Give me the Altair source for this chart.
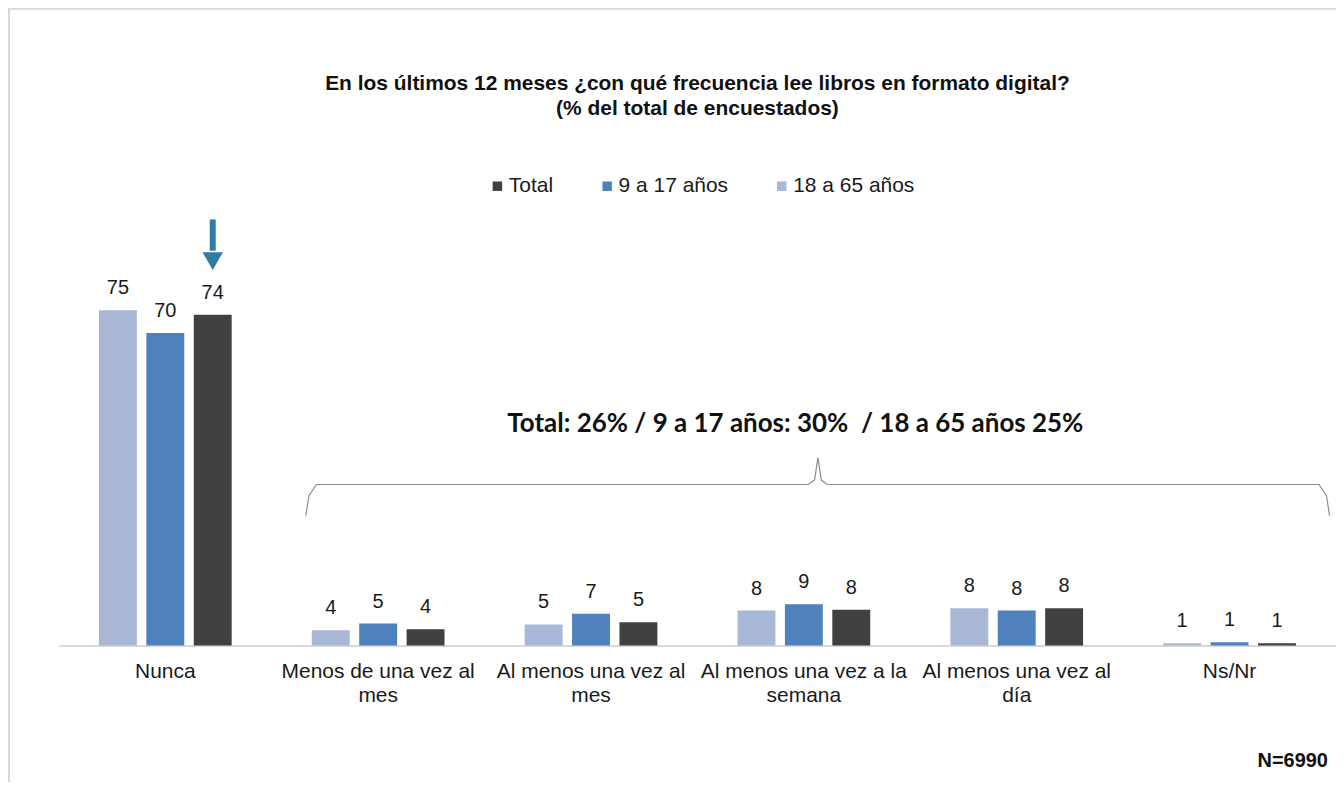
import altair as alt
import pandas as pd

# ---- data ----
categories = [
    "Nunca",
    "Menos de una vez al\nmes",
    "Al menos una vez al\nmes",
    "Al menos una vez a la\nsemana",
    "Al menos una vez al\ndía",
    "Ns/Nr",
]
series_bar_order = ["18 a 65 años", "9 a 17 años", "Total"]
legend_order = ["Total", "9 a 17 años", "18 a 65 años"]
legend_colors = ["#404040", "#4F81BD", "#A9B8D6"]

values_18_65 = [75.0, 3.4, 4.7, 7.8, 8.3, 0.5]
values_9_17 = [69.9, 4.9, 7.1, 9.2, 7.8, 0.7]
values_total = [74.0, 3.6, 5.2, 8.0, 8.3, 0.5]

labels_18_65 = [75, 4, 5, 8, 8, 1]
labels_9_17 = [70, 5, 7, 9, 8, 1]
labels_total = [74, 4, 5, 8, 8, 1]

title_lines = [
    "En los últimos 12 meses ¿con qué frecuencia lee libros en formato digital?",
    "(% del total de encuestados)",
]
annotation_text = "Total: 26% / 9 a 17 años: 30%\u00a0\u00a0/ 18 a 65 años 25%"
sample_text = "N=6990"

# annotation geometry (in category units on x, percent units on y)
brace_x = [1.16, 1.175, 1.21, 3.52, 3.55, 3.566, 3.582, 3.61, 5.92, 5.955, 5.97]
brace_y = [29.0, 33.5, 36.0, 36.0, 37.0, 42.0, 37.0, 36.0, 36.0, 33.5, 29.0]
annotation_pos = [3.46, 49.6]
sample_pos = [5.962, -25.9]
arrow_y = [95.3, 88.3]
arrow_head_y = 86.0

# ---- tables ----
rows = []
for s, vals, labs in [
    ("18 a 65 años", values_18_65, labels_18_65),
    ("9 a 17 años", values_9_17, labels_9_17),
    ("Total", values_total, labels_total),
]:
    for c, v, l in zip(categories, vals, labs):
        rows.append({"categoria": c, "serie": s, "valor": v, "etiqueta": str(l)})
df = pd.DataFrame(rows)

FONT = "Liberation Sans"

x_scale = alt.Scale(domain=categories, paddingInner=0, paddingOuter=0)
x_axis = alt.Axis(
    title=None,
    labelAngle=0,
    labelExpr="split(datum.value, '\\n')",
    labelFontSize=21,
    labelFont=FONT,
    labelColor="#1a1a1a",
    labelPadding=15,
    labelLineHeight=24,
    labelLimit=0,
    ticks=False,
    domainColor="#D9D9D9",
    domainWidth=2,
    grid=False,
)
x_enc = alt.X("categoria:N", sort=categories, scale=x_scale, axis=x_axis)
x_enc_plain = alt.X("categoria:N", sort=categories, scale=x_scale, axis=None)
xoff_enc = alt.XOffset(
    "serie:N",
    sort=series_bar_order,
    scale=alt.Scale(domain=series_bar_order, paddingInner=0.2, paddingOuter=0.845),
)
y_scale = alt.Scale(domain=[0, 100])

bars = alt.Chart(df).mark_bar().encode(
    x=x_enc,
    xOffset=xoff_enc,
    y=alt.Y("valor:Q", scale=y_scale, axis=None),
    color=alt.Color(
        "serie:N",
        scale=alt.Scale(domain=legend_order, range=legend_colors),
        legend=alt.Legend(
            title=None,
            orient="none",
            direction="horizontal",
            legendX=429,
            legendY=-23,
            symbolType="square",
            symbolSize=90,
            symbolStrokeWidth=0,
            labelFontSize=21,
            labelFont=FONT,
            labelColor="#1a1a1a",
            labelOffset=1,
            columnPadding=43,
        ),
    ),
)

texts = alt.Chart(df).mark_text(
    baseline="bottom", dy=-12, fontSize=20, font=FONT, color="#1a1a1a"
).encode(
    x=x_enc_plain,
    xOffset=xoff_enc,
    y=alt.Y("valor:Q", scale=y_scale),
    text="etiqueta:N",
)

arrow_df = pd.DataFrame(
    [{"categoria": categories[0], "serie": "Total", "y1": arrow_y[0], "y2": arrow_y[1], "yh": arrow_head_y}]
)
arrow_shaft = alt.Chart(arrow_df).mark_rule(color="#2E7BA3", strokeWidth=6).encode(
    x=x_enc_plain, xOffset=xoff_enc, y=alt.Y("y1:Q", scale=y_scale), y2="y2:Q"
)
arrow_head = alt.Chart(arrow_df).mark_point(
    shape="triangle-down", size=420, filled=True, color="#2E7BA3", opacity=1
).encode(x=x_enc_plain, xOffset=xoff_enc, y=alt.Y("yh:Q", scale=y_scale))

# annotation layer with its own x scale in category units
brace_df = pd.DataFrame({"bx": brace_x, "by": brace_y, "o": list(range(len(brace_x)))})
ax = alt.X("bx:Q", scale=alt.Scale(domain=[0, 6]), axis=None)
brace = alt.Chart(brace_df).mark_line(color="#8C8C8C", strokeWidth=1.2).encode(
    x=ax, y=alt.Y("by:Q", scale=y_scale), order="o:Q"
)

ann_df = pd.DataFrame([{"bx": annotation_pos[0], "by": annotation_pos[1], "t": annotation_text}])
ann = alt.Chart(ann_df).mark_text(
    fontSize=26, fontWeight="bold", font="Lato", color="#111111", align="center", baseline="middle"
).encode(x=ax, y=alt.Y("by:Q", scale=y_scale), text="t:N")

n_df = pd.DataFrame([{"bx": sample_pos[0], "by": sample_pos[1], "t": sample_text}])
ntext = alt.Chart(n_df).mark_text(
    fontSize=20, fontWeight="bold", font=FONT, color="#111111", align="right", baseline="middle"
).encode(x=ax, y=alt.Y("by:Q", scale=y_scale), text="t:N")

frame = alt.Chart(arrow_df).mark_rect(
    fillOpacity=0, stroke="#D9D9D9", strokeWidth=2
).encode(
    x=alt.value(-50), x2=alt.value(1420), y=alt.value(-190), y2=alt.value(700)
)

chart = (
    alt.layer(frame, bars, texts, arrow_shaft, arrow_head, brace, ann, ntext)
    .resolve_scale(x="independent")
    .properties(
        width=1280,
        height=448,
        autosize=alt.AutoSizeParams(type="none"),
        padding={"left": 51, "top": 190, "right": 0, "bottom": 136},
        view=alt.ViewBackground(strokeWidth=0, strokeOpacity=0),
        title=alt.TitleParams(
            title_lines,
            anchor="middle",
            fontSize=21,
            font=FONT,
            fontWeight="bold",
            color="#111111",
            offset=-111,
            lineHeight=25,
        ),
    )
    .configure_view(strokeWidth=0, strokeOpacity=0)
    .configure(background="white")
)

chart.save("out.html", embed_options={"renderer": "svg", "actions": False})
